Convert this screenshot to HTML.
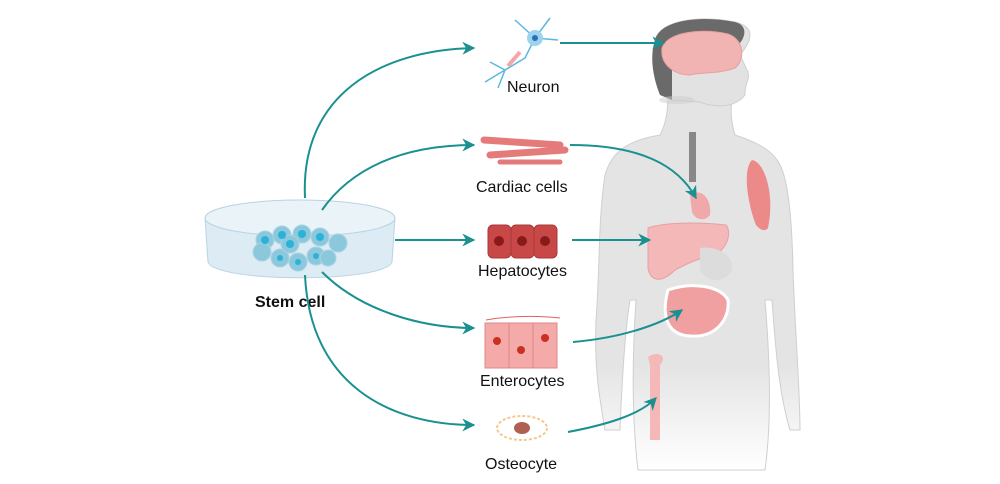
<!DOCTYPE html>
<html><head><meta charset="utf-8"><style>
html,body{margin:0;padding:0;background:#fff}
svg{display:block}
text{font-family:"Liberation Sans",Arial,sans-serif;font-size:16px;fill:#111}
</style></head><body>
<svg width="1000" height="484" viewBox="0 0 1000 484" xmlns="http://www.w3.org/2000/svg">
<defs>
<marker id="a" viewBox="0 0 10 10" refX="9" refY="5" markerWidth="6.5" markerHeight="6.5" markerUnits="strokeWidth" orient="auto"><path d="M0,0 L10,5 L0,10 L3,5z" fill="#1a9090"/></marker>
<linearGradient id="fade" x1="0" y1="0" x2="0" y2="1"><stop offset="0.72" stop-color="#e4e4e4"/><stop offset="1" stop-color="#e4e4e4" stop-opacity="0"/></linearGradient>
</defs>
<!-- body -->
<path d="M668,95 C668,115 665,125 660,135 C630,140 612,150 605,175 C598,220 600,270 596,320 C594,370 600,400 605,430 L620,430 C622,380 625,330 630,300 L636,300 C632,360 632,420 638,470 L765,470 C772,420 770,360 765,300 L772,300 C775,340 778,390 790,430 L800,430 C800,390 795,330 793,270 C792,220 788,180 780,165 C772,148 750,140 735,135 C732,125 730,112 732,100 Z" fill="url(#fade)" stroke="#cfcfcf" stroke-width="1"/>
<path d="M655,40 C660,20 700,15 735,22 C760,28 748,45 740,55 L748,72 C750,80 744,85 745,95 C735,108 715,108 700,102 L672,100 Z" fill="#e2e2e2" stroke="#cfcfcf"/>
<path d="M655,40 C660,20 700,15 735,22 C750,26 744,40 738,45 C700,30 680,40 672,60 L672,100 L660,95 C652,75 650,55 655,40Z" fill="#6a6a6a"/>
<path d="M662,48 C668,32 700,28 728,34 C745,40 745,60 735,68 C720,74 700,72 690,75 C675,75 660,65 662,48Z" fill="#f2b3b3" stroke="#e8a0a0"/>
<ellipse cx="677" cy="100" rx="18" ry="4" fill="#ccc" opacity="0.5"/>
<rect x="689" y="132" width="7" height="50" fill="#888"/>
<path d="M690,195 C698,188 712,195 710,215 C705,222 695,220 692,212 Z" fill="#f0a8a8"/>
<path d="M648,228 C665,222 700,222 726,225 C732,232 728,250 712,256 C700,258 690,262 675,270 C660,285 650,280 648,268 Z" fill="#f4b8b8" stroke="#e8a0a0"/>
<path d="M700,248 C715,245 735,255 732,270 C725,285 705,282 700,270Z" fill="#dcdcdc"/>
<path d="M668,290 C690,282 720,285 728,300 C730,320 715,338 690,336 C670,335 660,320 668,290Z" fill="#f0a0a0" stroke="#fff" stroke-width="3"/>
<path d="M648,357 C658,350 668,356 660,365 L660,440 L650,440 L650,365 Z" fill="#f5b8b8"/>
<path d="M752,160 C765,162 775,195 768,228 C765,232 760,230 756,225 C748,205 742,170 752,160Z" fill="#ec8a8a"/>
<!-- dish -->
<path d="M205,218 L208,262 C215,283 385,283 392,262 L395,218 Z" fill="#dcebf4" stroke="#b8d4e4"/>
<ellipse cx="300" cy="218" rx="95" ry="18" fill="#e9f3f8" stroke="#b8d4e4"/>
<g fill="#8cc8dc" stroke="#a8d4e4">
<circle cx="265" cy="240" r="9"/><circle cx="282" cy="235" r="9"/><circle cx="302" cy="234" r="9"/><circle cx="320" cy="237" r="9"/><circle cx="338" cy="243" r="9"/>
<circle cx="262" cy="252" r="9"/><circle cx="280" cy="258" r="9"/><circle cx="298" cy="262" r="9"/><circle cx="316" cy="256" r="9"/><circle cx="290" cy="244" r="9"/><circle cx="328" cy="258" r="8"/>
</g>
<g fill="#2ab2d8"><circle cx="282" cy="235" r="4"/><circle cx="302" cy="234" r="4"/><circle cx="320" cy="237" r="4"/><circle cx="265" cy="240" r="4"/><circle cx="290" cy="244" r="4"/><circle cx="280" cy="258" r="3"/><circle cx="298" cy="262" r="3"/><circle cx="316" cy="256" r="3"/></g>
<text x="255" y="307" font-weight="bold">Stem cell</text>
<!-- arrows -->
<g fill="none" stroke="#1a9090" stroke-width="2" marker-end="url(#a)">
<path d="M305,198 C300,95 380,50 474,48"/>
<path d="M322,210 C350,170 400,145 474,145"/>
<path d="M395,240 L474,240"/>
<path d="M322,272 C360,310 420,328 474,328"/>
<path d="M305,275 C310,385 390,425 474,425"/>
<path d="M560,43 L664,43"/>
<path d="M570,145 C640,145 678,165 696,198"/>
<path d="M572,240 L650,240"/>
<path d="M573,342 C620,338 660,325 682,310"/>
<path d="M568,432 C605,425 640,415 656,398"/>
</g>
<!-- neuron -->
<g stroke="#58b8e0" stroke-width="1.5" fill="none">
<path d="M535,38 L515,20 M535,38 L550,18 M535,38 L558,40 M535,38 L525,58 L505,70 M505,70 L490,62 M505,70 L485,82 M505,70 L498,88"/>
</g>
<circle cx="535" cy="38" r="8" fill="#9ad4ef"/><circle cx="535" cy="38" r="3" fill="#2a6fb8"/>
<path d="M520,52 L508,66" stroke="#f2a8a8" stroke-width="4"/>
<text x="507" y="92">Neuron</text>
<!-- cardiac -->
<g stroke="#e57a7a" stroke-width="7" stroke-linecap="round">
<path d="M484,140 L560,145"/><path d="M490,155 L565,150"/><path d="M500,162 L560,162" stroke-width="5"/>
</g>
<text x="476" y="192">Cardiac cells</text>
<!-- hepatocytes -->
<g fill="#c84848" stroke="#a83838"><rect x="488" y="225" width="23" height="33" rx="5"/><rect x="511" y="225" width="23" height="33" rx="5"/><rect x="534" y="225" width="23" height="33" rx="5"/></g>
<g fill="#8a1a1a"><circle cx="499" cy="241" r="5"/><circle cx="522" cy="241" r="5"/><circle cx="545" cy="241" r="5"/></g>
<text x="478" y="276">Hepatocytes</text>
<!-- enterocytes -->
<g fill="#f5aaaa" stroke="#e08888"><rect x="485" y="323" width="24" height="45"/><rect x="509" y="323" width="24" height="45"/><rect x="533" y="323" width="24" height="45"/></g>
<path d="M486,320 Q520,314 560,318" stroke="#e06060" fill="none"/>
<g fill="#c83020"><circle cx="497" cy="341" r="4"/><circle cx="521" cy="350" r="4"/><circle cx="545" cy="338" r="4"/></g>
<text x="480" y="386">Enterocytes</text>
<!-- osteocyte -->
<ellipse cx="522" cy="428" rx="25" ry="12" fill="none" stroke="#f3c98a" stroke-width="2" stroke-dasharray="3 2"/>
<ellipse cx="522" cy="428" rx="8" ry="6" fill="#b06050"/>
<text x="485" y="469">Osteocyte</text>
</svg>
</body></html>
